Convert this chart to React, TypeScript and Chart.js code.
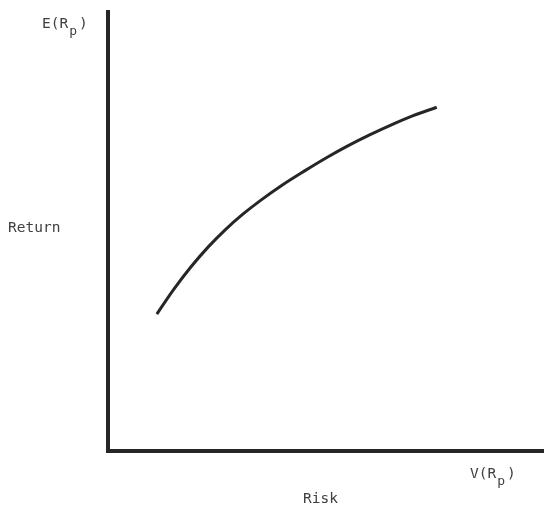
import React, { useEffect, useRef } from "react";
import { Chart, registerables } from "chart.js";

Chart.register(...registerables);

// Efficient frontier curve: risk (x) vs expected return (y), arbitrary units 0..100
const riskValues = [11.2, 15, 19, 23, 27, 31, 35, 40, 45, 50, 55, 60, 65, 70, 75.4];
const returnValues = [31.2, 36.7, 41.9, 46.5, 50.5, 54.0, 57.1, 60.6, 63.75, 66.75, 69.5, 72.0, 74.3, 76.4, 78.3];

const yTopLabel = "E(R";
const xEndLabel = "V(R";
const subscript = "p";
const yAxisName = "Return";
const xAxisName = "Risk";

const FONT = "'DejaVu Sans Mono', monospace";
const INK = "#262626";

const labelsPlugin = {
  id: "frontierLabels",
  afterDraw(chart: any) {
    const { ctx, chartArea } = chart;
    const { left, right, top, bottom } = chartArea;
    ctx.save();
    ctx.fillStyle = "#404040";
    ctx.textBaseline = "alphabetic";
    ctx.textAlign = "left";

    const drawSub = (main: string, x: number, y: number) => {
      ctx.font = `14.5px ${FONT}`;
      ctx.fillText(main, x, y);
      const w = ctx.measureText(main).width;
      ctx.font = `13px ${FONT}`;
      ctx.fillText(subscript, x + w + 1, y + 7);
      const ws = ctx.measureText(subscript).width;
      ctx.font = `14.5px ${FONT}`;
      ctx.fillText(")", x + w + ws + 3, y);
    };

    // E(R_p) at top left of y axis
    drawSub(yTopLabel, left - 66, top + 16);
    // Return, left side
    ctx.font = `14.5px ${FONT}`;
    ctx.fillText(yAxisName, 8, top + 220);
    // V(R_p) below x axis right end
    drawSub(xEndLabel, right - 74, bottom + 27);
    // Risk
    ctx.font = `14.5px ${FONT}`;
    ctx.fillText(xAxisName, 303, bottom + 52);
    ctx.restore();
  },
};

export default function App() {
  const ref = useRef<HTMLCanvasElement | null>(null);
  useEffect(() => {
    if (!ref.current) return;
    const data = riskValues.map((x, i) => ({ x, y: returnValues[i] }));
    const chart = new Chart(ref.current, {
      type: "line",
      data: {
        datasets: [
          {
            data,
            borderColor: INK,
            borderWidth: 3,
            pointRadius: 0,
            cubicInterpolationMode: "monotone",
            fill: false,
          },
        ],
      },
      options: {
        responsive: false,
        animation: false,
        events: [],
        layout: { padding: { left: 100, right: 0, top: 12, bottom: 47 } },
        plugins: { legend: { display: false }, tooltip: { enabled: false } },
        scales: {
          x: {
            type: "linear",
            min: 0,
            max: 100,
            grid: { display: false },
            ticks: { display: false },
            border: { display: true, color: INK, width: 4 },
          },
          y: {
            type: "linear",
            min: 0,
            max: 100,
            grid: { display: false },
            ticks: { display: false },
            border: { display: true, color: INK, width: 4 },
          },
        },
      },
      plugins: [labelsPlugin],
    });
    return () => chart.destroy();
  }, []);
  return (
    <div style={{ position: "absolute", left: 0, top: 0, width: 544, height: 506, background: "#fff" }}>
      <canvas ref={ref} width={544} height={506} style={{ display: "block" }} />
    </div>
  );
}
